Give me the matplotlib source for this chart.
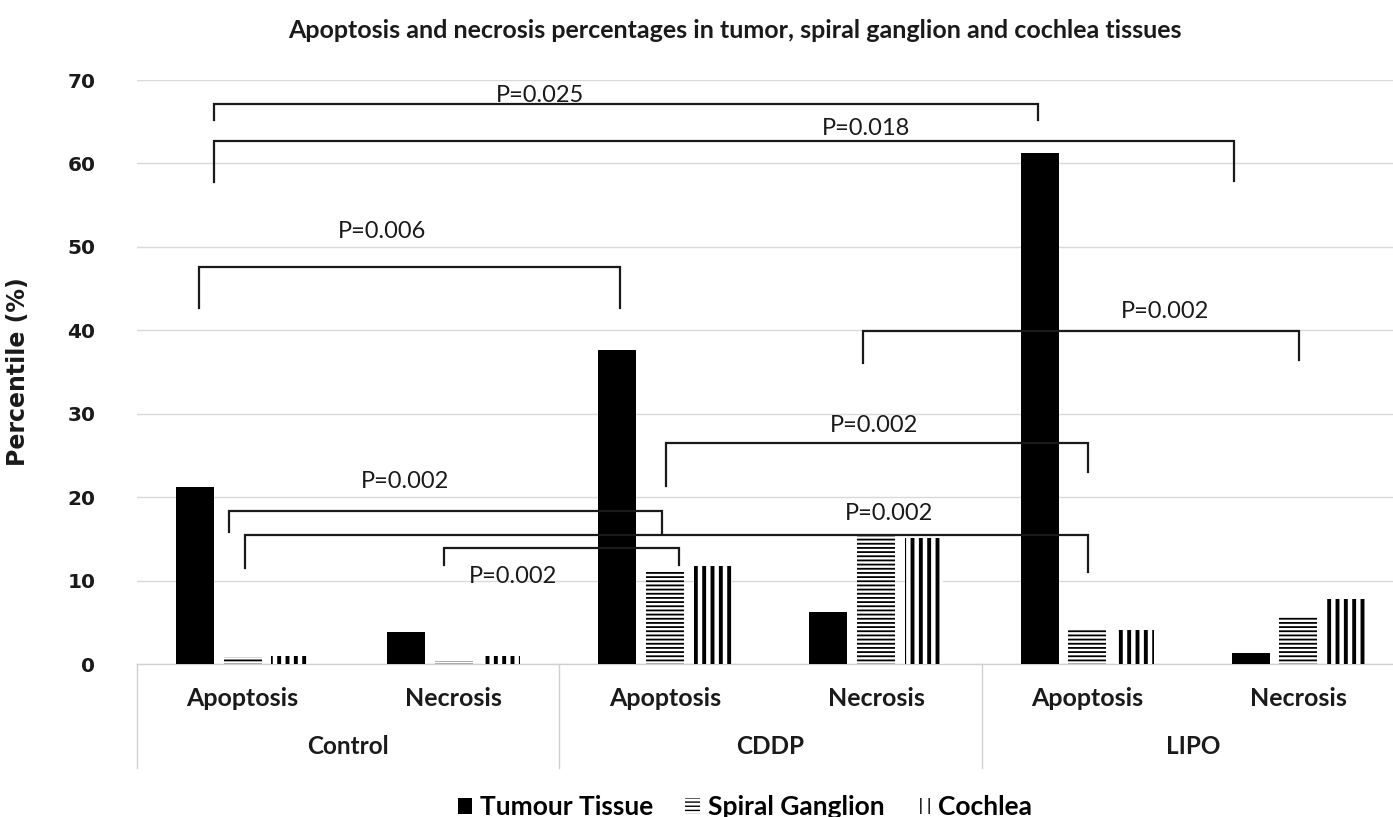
import matplotlib
matplotlib.use("Agg")
import matplotlib.pyplot as plt
from matplotlib.patches import Patch
from matplotlib.transforms import blended_transform_factory
import numpy as np

# ---------------- data ----------------
groups = ["Control", "CDDP", "LIPO"]
subcats = ["Apoptosis", "Necrosis", "Apoptosis", "Necrosis", "Apoptosis", "Necrosis"]
series_names = ["Tumour Tissue", "Spiral Ganglion", "Cochlea"]
tumour = [21.2, 3.8, 37.6, 6.2, 61.2, 1.3]
spiral = [0.8, 0.3, 11.1, 15.4, 4.1, 5.7]
cochlea = [0.9, 0.9, 11.8, 15.1, 4.1, 7.8]
yticks = [0, 10, 20, 30, 40, 50, 60, 70]
title = "Apoptosis and necrosis percentages in tumor, spiral ganglion and cochlea tissues"
ylabel = "Percentile (%)"

# significance brackets: (x_left, x_right, y_bar, y_left_end, y_right_end, label, label_x, label_y)
brackets = [
    (-0.135, 3.765, 67.1, 65.2, 65.2, "P=0.025", 1.41, 68.1),
    (-0.135, 4.693, 62.7, 57.8, 57.9, "P=0.018", 2.95, 64.2),
    (-0.207, 1.786, 47.6, 42.7, 42.7, "P=0.006", 0.66, 51.9),
    (2.937, 5.005, 39.9, 36.1, 36.4, "P=0.002", 4.37, 42.3),
    (2.004, 4.002, 26.5, 21.3, 23.0, "P=0.002", 2.99, 28.6),
    (-0.065, 1.985, 18.3, 15.8, 15.6, "P=0.002", 0.77, 21.9),
    (0.011, 4.002, 15.5, 11.5, 11.0, "P=0.002", 3.06, 18.0),
    (0.953, 2.066, 13.9, 11.9, 11.9, "P=0.002", 1.28, 10.5),
]

# ---------------- figure ----------------
W, H = 1393, 817
fig = plt.figure(figsize=(W / 100, H / 100), dpi=100)
ax = fig.add_axes([137 / W, (H - 664) / H, 1 - 137 / W, (664 - 80) / H])

x = np.arange(len(subcats))
bw = 0.18
off = 0.226

ax.bar(x - off, tumour, bw, color="black", edgecolor="black", linewidth=0, zorder=3)

def hatched(vals, pos, hatch, hlw):
    with plt.rc_context({"hatch.linewidth": hlw, "hatch.color": "black"}):
        bars = ax.bar(pos, vals, bw, color="white", edgecolor="black", linewidth=0,
                      hatch=hatch, zorder=3)
        for b in bars:
            if hasattr(b, "set_hatch_linewidth"):
                b.set_hatch_linewidth(hlw)
    return bars

hatched(spiral, x, "----", 1.3)
hatched(cochlea, x + off, "||", 2.8)

ax.set_ylim(0, 70)
ax.set_xlim(-0.5, 5.5 - 11 / 211.25)
ax.set_yticks(yticks)
ax.set_yticklabels([str(v) for v in yticks], fontsize=14.5, fontweight="bold",
                   family="DejaVu Sans", color="#1a1a1a")
ax.tick_params(axis="y", length=0, pad=30)
ax.tick_params(axis="x", length=0, labelbottom=False)
ax.yaxis.grid(True, color="#d9d9d9", linewidth=1.0, zorder=0)
ax.set_axisbelow(True)
for s in ["top", "right", "left"]:
    ax.spines[s].set_visible(False)
ax.spines["bottom"].set_color("#d0d0d0")
ax.spines["bottom"].set_linewidth(1.0)

ax.set_ylabel(ylabel, fontsize=17, fontweight="bold", family="DejaVu Sans", color="#1a1a1a")
ax.yaxis.set_label_coords((30 - 137) / (W - 137), 0.5)

# multi-level category axis
trans = blended_transform_factory(ax.transData, ax.transAxes)
for xi, lab in zip(x, subcats):
    ax.text(xi, (664 - 698) / 584, lab, transform=trans, ha="center", va="center",
            fontsize=18, fontweight="bold", family="Lato", color="#1a1a1a")
for gi, g in enumerate(groups):
    ax.text(2 * gi + 0.5, (664 - 746) / 584, g, transform=trans, ha="center", va="center",
            fontsize=17.5, fontweight="bold", family="Lato", color="#1a1a1a")
for xb in [-0.5, 1.5, 3.5, 5.5]:
    ax.plot([xb, xb], [0, (664 - 768) / 584], transform=trans, color="#d0d0d0",
            linewidth=1.0, clip_on=False)

# brackets
for (xl, xr, yb, yl, yr, lab, lx, ly) in brackets:
    ax.plot([xl, xl, xr, xr], [yl, yb, yb, yr], color="#1a1a1a", linewidth=1.6,
            zorder=4, solid_joinstyle="miter")
    ax.text(lx, ly, lab, ha="center", va="center", fontsize=17, family="Lato",
            color="#1a1a1a", zorder=5)

fig.text(735 / W, 1 - 30 / H, title, ha="center", va="center", fontsize=18,
         fontweight="bold", family="Lato", color="#1a1a1a")

handles = [Patch(facecolor="black", edgecolor="black", linewidth=0),
           Patch(facecolor="white", edgecolor="black", linewidth=0, hatch="----"),
           Patch(facecolor="white", edgecolor="black", linewidth=0, hatch="||")]
leg = fig.legend(handles, series_names, loc="center", bbox_to_anchor=(745 / W, 10 / H),
                 ncol=3, frameon=False, handlelength=0.55, handleheight=0.55,
                 handletextpad=0.3, columnspacing=1.2,
                 prop={"family": "Lato", "weight": "bold", "size": 19})

fig.savefig("out.png", dpi=100, facecolor="white")
